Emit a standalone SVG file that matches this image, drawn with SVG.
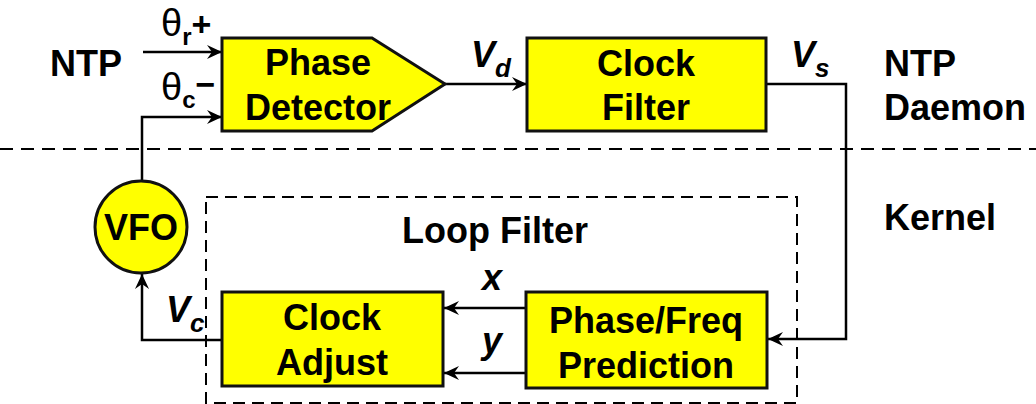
<svg xmlns="http://www.w3.org/2000/svg" width="1036" height="404" viewBox="0 0 1036 404">
  <style>
    text { font-family: "Liberation Sans", Arial, sans-serif; font-weight: bold; fill: #000; }
    .big { font-size: 36px; }
    .mid { text-anchor: middle; }
    .it { font-style: italic; }
    .sub { font-size: 26px; }
    .theta { font-size: 38px; font-weight: normal; }
    .idx { font-size: 24px; font-weight: bold; }
    .sign { font-size: 34px; font-weight: bold; }
    .block { fill: #ffff00; stroke: #111; stroke-width: 3; }
    .wire { fill: none; stroke: #000; stroke-width: 2.5; }
    .sep { fill: none; stroke: #000; stroke-width: 2; stroke-dasharray: 13 8; }
    .group { fill: none; stroke: #000; stroke-width: 2; stroke-dasharray: 12 7; }
  </style>
  <defs>
    <marker id="arrow" viewBox="-16 -8 18 16" refX="0" refY="0" markerWidth="18" markerHeight="16" markerUnits="userSpaceOnUse" orient="auto">
      <path d="M0,0 L-15,-7 L-10,0 L-15,7 Z" fill="#000"/>
    </marker>
  </defs>

  <!-- daemon / kernel boundary -->
  <line class="sep" x1="0" y1="149" x2="1036" y2="149"/>

  <!-- loop filter boundary -->
  <g id="loop-filter">
    <rect class="group" x="206" y="197" width="591" height="206"/>
    <text class="big" x="402" y="243">Loop Filter</text>
  </g>

  <!-- side labels -->
  <text class="big" x="50" y="76">NTP</text>
  <text class="big" x="884" y="76">NTP</text>
  <text class="big" x="884" y="120">Daemon</text>
  <text class="big" x="884" y="230">Kernel</text>

  <!-- connectors -->
  <g id="connectors">
    <line class="wire" x1="143" y1="52" x2="222" y2="52" marker-end="url(#arrow)"/>
    <polyline class="wire" points="142,181 142,117 222,117" marker-end="url(#arrow)"/>
    <line class="wire" x1="445" y1="84" x2="527" y2="84" marker-end="url(#arrow)"/>
    <polyline class="wire" points="766,84 846,84 846,339 768,339" marker-end="url(#arrow)"/>
    <line class="wire" x1="526" y1="308" x2="444" y2="308" marker-end="url(#arrow)"/>
    <line class="wire" x1="526" y1="373" x2="444" y2="373" marker-end="url(#arrow)"/>
    <polyline class="wire" points="222,340 142,340 142,274" marker-end="url(#arrow)"/>

    <!-- connector labels -->
    <text class="theta" x="161" y="36">θ<tspan class="idx" dy="9">r</tspan><tspan class="sign" dy="-9">+</tspan></text>
    <text class="theta" x="161" y="100">θ<tspan class="idx" dy="8">c</tspan><tspan class="sign" dy="-12">−</tspan></text>
    <text class="big it" x="471" y="67">V<tspan class="sub" dy="10">d</tspan></text>
    <text class="big it" x="791" y="67">V<tspan class="sub" dy="10">s</tspan></text>
    <text class="big it" x="166" y="322">V<tspan class="sub" dy="10">c</tspan></text>
    <text class="big it" x="482" y="290">x</text>
    <text class="big it" x="482" y="353">y</text>
  </g>

  <g id="phase-detector">
    <polygon class="block" points="222,38 372,38 445,84 372,131 222,131"/>
    <text class="big mid" x="318" y="75">Phase</text>
    <text class="big mid" x="318" y="120">Detector</text>
  </g>

  <g id="clock-filter">
    <rect class="block" x="527" y="38" width="239" height="93"/>
    <text class="big mid" x="646" y="76">Clock</text>
    <text class="big mid" x="646" y="120">Filter</text>
  </g>

  <g id="vfo">
    <circle class="block" cx="141" cy="227" r="46"/>
    <text class="big mid" x="141" y="240">VFO</text>
  </g>

  <g id="clock-adjust">
    <rect class="block" x="222" y="292" width="221" height="94"/>
    <text class="big mid" x="332" y="330">Clock</text>
    <text class="big mid" x="332" y="375">Adjust</text>
  </g>

  <g id="prediction">
    <rect class="block" x="526" y="292" width="241" height="96"/>
    <text class="big mid" x="646" y="333">Phase/Freq</text>
    <text class="big mid" x="646" y="378">Prediction</text>
  </g>
</svg>
